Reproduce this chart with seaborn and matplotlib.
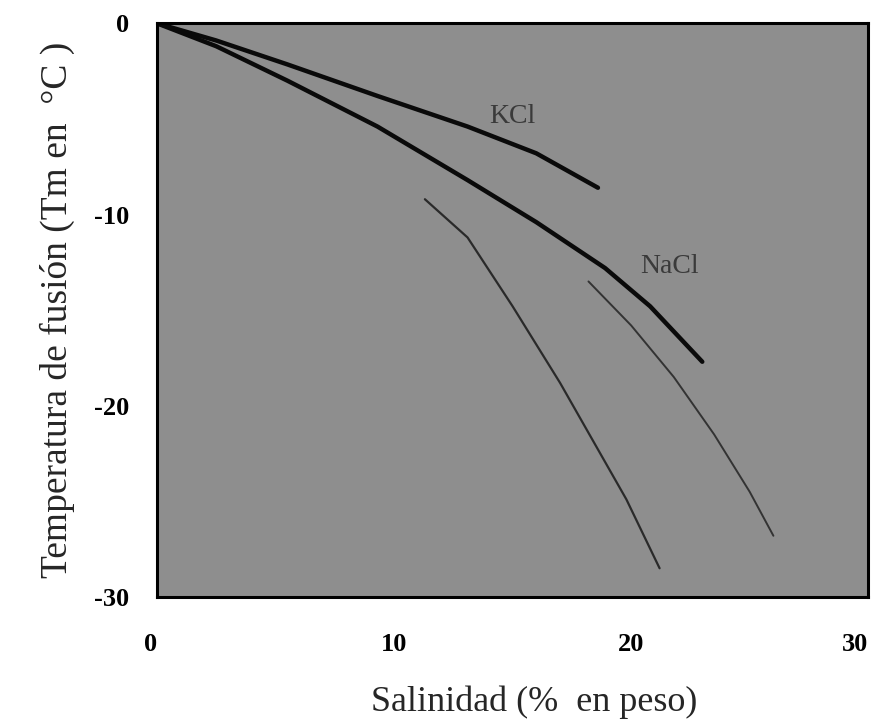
import matplotlib
matplotlib.use("Agg")
import matplotlib.pyplot as plt
import pandas as pd
import seaborn as sns

# salinity (wt %) vs melting temperature (deg C)
kcl_salinity = [0.0, 2.5, 5.5, 9.3, 13.1, 16.0, 18.6]
kcl_tm = [0.0, -0.9, -2.15, -3.8, -5.4, -6.8, -8.6]

nacl_salinity = [0.0, 2.5, 5.5, 9.3, 13.1, 16.0, 18.9, 20.8, 23.0]
nacl_tm = [0.0, -1.2, -3.0, -5.4, -8.2, -10.4, -12.8, -14.8, -17.7]

thin_a_salinity = [11.3, 13.1, 15.0, 17.0, 19.8, 21.2]
thin_a_tm = [-9.2, -11.2, -14.8, -18.8, -24.9, -28.5]

thin_b_salinity = [18.2, 20.0, 21.8, 23.5, 25.0, 26.0]
thin_b_tm = [-13.5, -15.8, -18.5, -21.5, -24.5, -26.8]

x_ticks = [0, 10, 20, 30]
y_ticks = [0, -10, -20, -30]

curve_labels = {"KCl": (15.0, -4.9), "NaCl": (21.6, -12.7)}


def curve_frame(name, xs, ys):
    return pd.DataFrame({"curve": name, "salinidad": xs, "tm": ys})


def main() -> None:
    sns.set_theme(style="white")
    plt.rcParams["font.family"] = ["Liberation Serif", "DejaVu Serif"]

    fig = plt.figure(figsize=(8.77, 7.28), dpi=100)
    ax = fig.add_axes([0.179, 0.18, 0.811, 0.788])
    ax.set_facecolor("#8e8e8e")

    curves = [
        (curve_frame("KCl", kcl_salinity, kcl_tm), "#0a0a0a", 3.2),
        (curve_frame("NaCl", nacl_salinity, nacl_tm), "#0a0a0a", 3.2),
        (curve_frame("A", thin_a_salinity, thin_a_tm), "#2a2a2a", 1.6),
        (curve_frame("B", thin_b_salinity, thin_b_tm), "#333333", 1.4),
    ]
    for df, color, lw in curves:
        sns.lineplot(data=df, x="salinidad", y="tm", ax=ax, color=color,
                     linewidth=lw, sort=False, legend=False)

    for text, (x, y) in curve_labels.items():
        ax.text(x, y, text, fontsize=20, color="#3a3a3a", ha="center", va="center")

    ax.set_xlim(0, 30)
    ax.set_ylim(-30, 0)
    ax.set_xticks(x_ticks)
    ax.set_yticks(y_ticks)
    ax.set_xticklabels([str(t) for t in x_ticks])
    ax.set_yticklabels([str(t) for t in y_ticks])
    ax.tick_params(axis="both", direction="in", length=21, width=2.2,
                   color="black", labelsize=19, labelcolor="black")
    ax.tick_params(axis="x", pad=26)
    ax.tick_params(axis="y", pad=20)
    for lbl in ax.get_xticklabels() + ax.get_yticklabels():
        lbl.set_fontweight("semibold")
    xlabels = ax.get_xticklabels()
    xlabels[0].set_horizontalalignment("right")
    xlabels[-1].set_horizontalalignment("right")

    for spine in ax.spines.values():
        spine.set_color("black")
        spine.set_linewidth(2.2)

    ax.set_xlabel("Salinidad (%  en peso)", fontsize=26, labelpad=20)
    ax.xaxis.set_label_coords(0.53, -0.155)
    ax.set_ylabel("Temperatura de fusión (Tm en  °C )", fontsize=27, labelpad=14)

    fig.savefig("out.png", dpi=100)
    plt.close(fig)


if __name__ == "__main__":
    main()
